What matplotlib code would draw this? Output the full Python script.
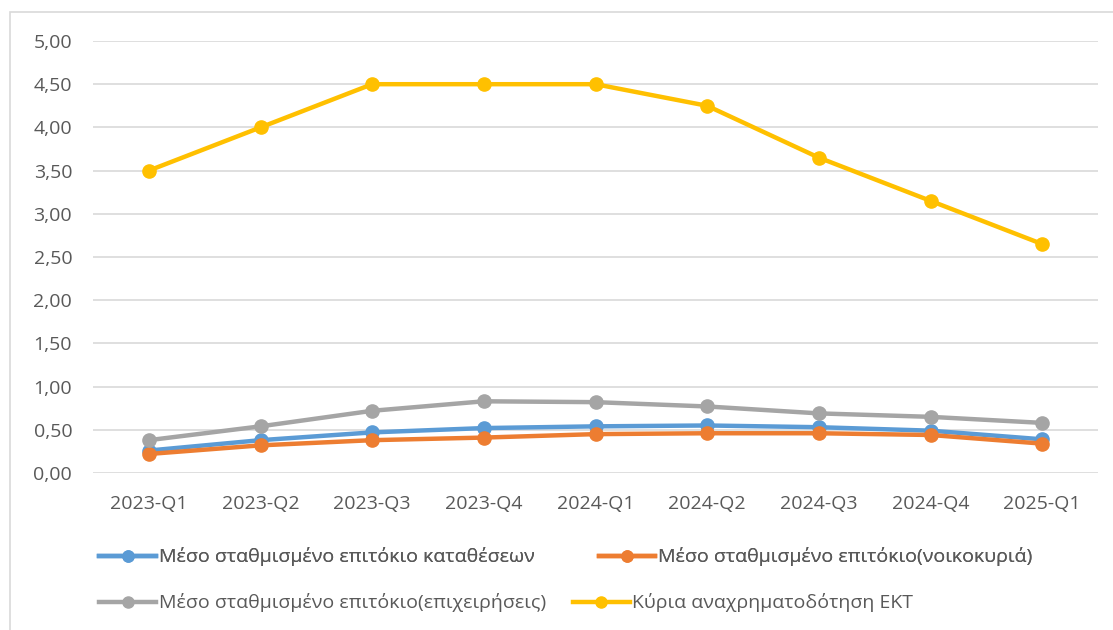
import matplotlib.pyplot as plt
from matplotlib.patches import Rectangle
from matplotlib.lines import Line2D
from matplotlib.ticker import FuncFormatter

plt.rcParams['font.family'] = ['Open Sans', 'DejaVu Sans']

quarters = ['2023-Q1', '2023-Q2', '2023-Q3', '2023-Q4', '2024-Q1',
            '2024-Q2', '2024-Q3', '2024-Q4', '2025-Q1']

deposits = [0.26, 0.38, 0.47, 0.52, 0.54, 0.55, 0.53, 0.49, 0.39]
households = [0.22, 0.32, 0.38, 0.41, 0.45, 0.46, 0.46, 0.44, 0.34]
business = [0.38, 0.54, 0.72, 0.83, 0.82, 0.77, 0.69, 0.65, 0.58]
ecb_rate = [3.50, 4.00, 4.50, 4.50, 4.50, 4.25, 3.65, 3.15, 2.65]

names = ['Μέσο σταθμισμένο επιτόκιο καταθέσεων',
         'Μέσο σταθμισμένο επιτόκιο(νοικοκυριά)',
         'Μέσο σταθμισμένο επιτόκιο(επιχειρήσεις)',
         'Κύρια αναχρηματοδότηση ΕΚΤ']
colors = ['#5B9BD5', '#ED7D31', '#A5A5A5', '#FFC000']

W, H = 1113, 630
fig = plt.figure(figsize=(W / 100, H / 100), dpi=100)
ax = fig.add_axes([93 / W, 1 - 473 / H, (1098 - 93) / W, (473 - 41) / H])

# chart frame like the excel chart area
fig.patches.append(Rectangle((10 / W, -0.05), 1.2, 1 - 12 / H + 0.05,
                             transform=fig.transFigure, fill=False,
                             edgecolor='#D9D9D9', linewidth=1.2))

x = list(range(len(quarters)))
for vals, c in zip([deposits, households, business, ecb_rate], colors):
    ax.plot(x, vals, color=c, linewidth=3.2, marker='o',
            markersize=9.5, solid_capstyle='round', zorder=3)

ax.set_xlim(-0.5, len(quarters) - 0.5)
ax.set_ylim(0, 5)
ax.set_yticks([i * 0.5 for i in range(11)])
ax.yaxis.set_major_formatter(FuncFormatter(lambda v, p: f'{v:.2f}'.replace('.', ',')))
ax.set_xticks(x)
ax.set_xticklabels(quarters)
ax.grid(axis='y', color='#D9D9D9', linewidth=1.2, zorder=0)
for s in ax.spines.values():
    s.set_visible(False)
ax.tick_params(length=0, labelsize=14, colors='#595959')
ax.tick_params(axis='x', pad=16)
ax.tick_params(axis='y', pad=15)

handles = [Line2D([], [], color=c, linewidth=3.2, marker='o', markersize=8)
           for c in colors]
leg1 = fig.legend(handles[:2], names[:2], loc='center left',
                  bbox_to_anchor=(82 / W, 1 - 557 / H), ncol=2, frameon=False,
                  fontsize=14, handlelength=2.9, handletextpad=0.15,
                  columnspacing=3.3, labelcolor='#595959')
leg2 = fig.legend(handles[2:], names[2:], loc='center left',
                  bbox_to_anchor=(82 / W, 1 - 603 / H), ncol=2, frameon=False,
                  fontsize=14, handlelength=2.9, handletextpad=0.15,
                  columnspacing=1.4, labelcolor='#595959')
fig.add_artist(leg1)

fig.savefig('out.png', dpi=100)
